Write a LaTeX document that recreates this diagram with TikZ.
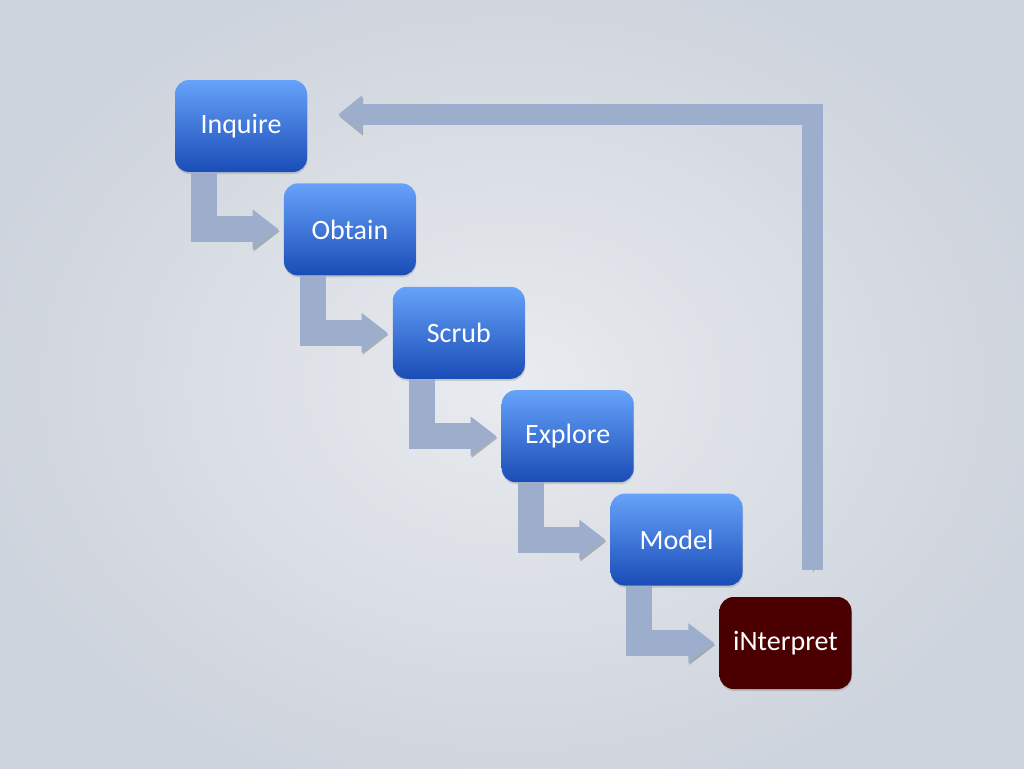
\documentclass[tikz,border=0pt]{standalone}
\usepackage{fontspec}
\setmainfont{Carlito}
\usetikzlibrary{calc,positioning,arrows.meta,shadows}
\definecolor{stepTop}{HTML}{66A2FA}
\definecolor{stepBot}{HTML}{1A4CB6}
\definecolor{lastStep}{HTML}{4A0000}
\definecolor{flow}{HTML}{9CAECB}
\definecolor{bgIn}{HTML}{E8EBEF}
\definecolor{bgOut}{HTML}{CDD3DC}

\begin{document}
\begin{tikzpicture}[x=1pt, y=-1pt, font=\fontsize{28}{32}\selectfont,
  blk/.style={rounded corners=14pt, minimum width=132pt, minimum height=92pt, inner sep=0pt,
    text=white, top color=stepTop, bottom color=stepBot,
    drop shadow={opacity=0.3, shadow xshift=0.5pt, shadow yshift=-2pt}},
  lastblk/.style={blk, top color=lastStep, bottom color=lastStep},
  flo/.style={draw=flow, line width=26pt, -{Triangle[length=26pt, width=38pt]},
    preaction={draw=black!70, opacity=0.35, transform canvas={shift={(1pt,-2pt)}}}},
  back/.style={flo, line width=21pt, -{Triangle[length=24pt, width=37pt]}}]
% background
\useasboundingbox (0,0) rectangle (1024,768);
\clip (0,0) rectangle (1024,768);
\fill[inner color=bgIn, outer color=bgOut] (-60,-60) rectangle (1084,828);
% steps
\node[blk] (inq) at (241,126) {Inquire};
\node[blk, below right=11pt and -23.5pt of inq] (obt) {Obtain};
\node[blk, below right=11pt and -23.5pt of obt] (scr) {Scrub};
\node[blk, below right=11pt and -23.5pt of scr] (exp) {Explore};
\node[blk, below right=11pt and -23.5pt of exp] (mod) {Model};
\node[lastblk, below right=11pt and -23.5pt of mod] (int) {iNterpret};
% step arrows
\foreach \a/\b in {inq/obt, obt/scr, scr/exp, exp/mod, mod/int}
  \draw[flo] ($(\a.south west)+(29pt,0)$) |- ([xshift=-5pt]\b.west);
% loop back
\coordinate (fb) at ($(int.north)+(27pt,27pt)$);
\coordinate (fbend) at ([xshift=31pt, yshift=11.5pt]inq.east);
\draw[back] (fb) |- (fbend);
\end{tikzpicture}
\end{document}
